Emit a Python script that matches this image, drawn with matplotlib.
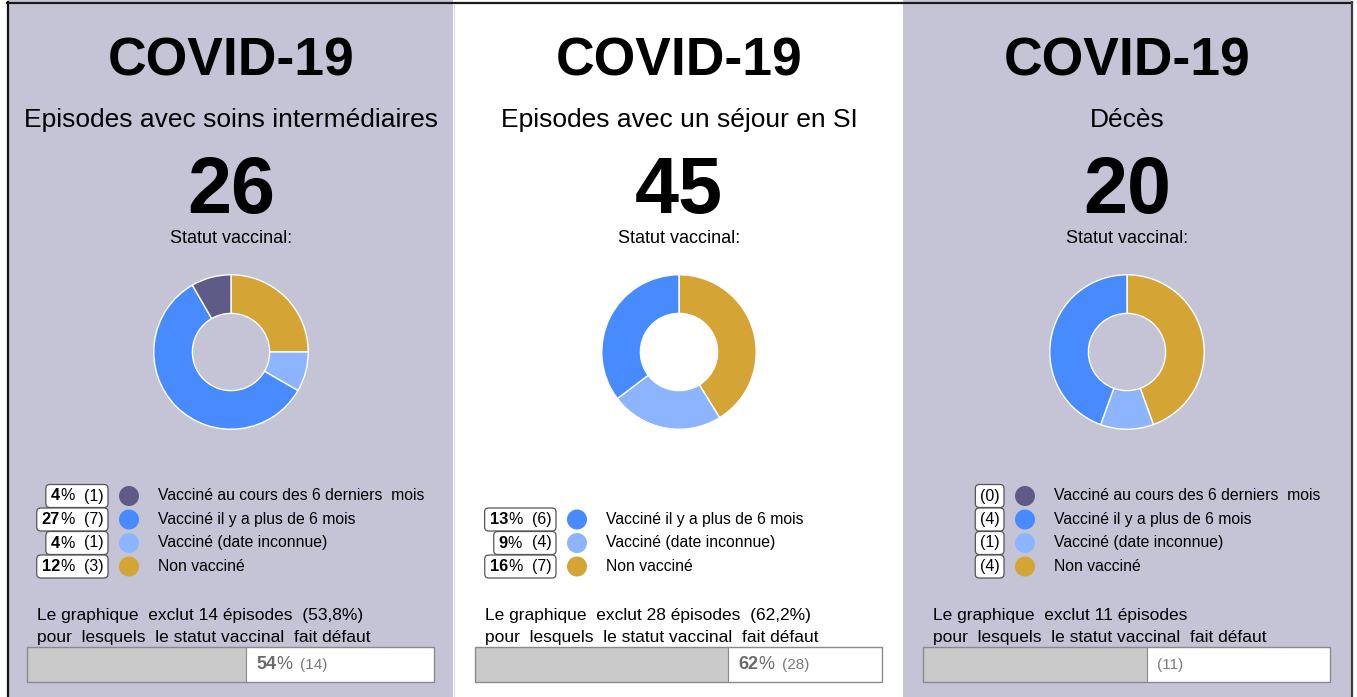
import matplotlib
matplotlib.use('Agg')
import matplotlib.pyplot as plt
from matplotlib.patches import Rectangle, FancyBboxPatch, Circle

plt.rcParams['font.family'] = ['Liberation Sans', 'DejaVu Sans']

# ---- data ----
subtitles = ['Episodes avec soins intermédiaires', 'Episodes avec un séjour en SI', 'Décès']
totals = [26, 45, 20]
categories = ['Vacciné au cours des 6 derniers  mois', 'Vacciné il y a plus de 6 mois',
              'Vacciné (date inconnue)', 'Non vacciné']
cat_colors = ['#5f5b87', '#488bff', '#8db4ff', '#d4a535']
counts = [[1, 7, 1, 3],
          [None, 6, 4, 7],
          [0, 4, 1, 4]]
missing = [14, 28, 11]
show_pct = [True, True, False]

# ---- layout (pixels) ----
W, H = 1357, 697
panel_x = [(8, 453), (453, 903), (903, 1351)]
panel_bg = ['#c5c4d6', '#ffffff', '#c5c4d6']
centers = [231, 679, 1127]
row_y = [496, 519.5, 543, 566.5]

fig = plt.figure(figsize=(W / 100, H / 100), dpi=100)
ax = fig.add_axes([0, 0, 1, 1])
ax.set_xlim(0, W)
ax.set_ylim(H, 0)
ax.axis('off')
renderer = fig.canvas.get_renderer()


def text_w(t):
    return t.get_window_extent(renderer).width


def runs_right(x, y, parts):
    left = x
    for s, kw, gap in reversed(parts):
        t = ax.text(x, y, s, ha='right', va='baseline', **kw)
        left = x - text_w(t)
        x = left - gap
    return left


def runs_left(x, y, parts):
    for s, kw, gap in parts:
        x += gap
        t = ax.text(x, y, s, ha='left', va='baseline', **kw)
        x += text_w(t)
    return x


for i in range(3):
    x0, x1 = panel_x[i]
    cx = centers[i]
    ax.add_patch(Rectangle((x0, 0), x1 - x0, H, facecolor=panel_bg[i], edgecolor='none', zorder=0))

    ax.text(cx, 76, 'COVID-19', ha='center', va='baseline', fontsize=38.5, fontweight='bold')
    ax.text(cx, 127, subtitles[i], ha='center', va='baseline', fontsize=19)
    ax.text(cx, 213, str(totals[i]), ha='center', va='baseline', fontsize=57, fontweight='bold')
    ax.text(cx, 243, 'Statut vaccinal:', ha='center', va='baseline', fontsize=13)

    # donut, clockwise from the top: last category first
    vals = [c or 0 for c in counts[i]][::-1]
    cols = cat_colors[::-1]
    keep = [k for k, v in enumerate(vals) if v > 0]
    r = 78
    pax = fig.add_axes([(cx - r) / W, (H - 352 - r) / H, 2 * r / W, 2 * r / H])
    pax.pie([vals[k] for k in keep], colors=[cols[k] for k in keep], startangle=90,
            counterclock=False, radius=1,
            wedgeprops=dict(width=0.5, edgecolor='white', linewidth=1))
    pax.set_xlim(-1.01, 1.01)
    pax.set_ylim(-1.01, 1.01)
    pax.set_facecolor('none')

    # legend
    for j, cat in enumerate(categories):
        c = counts[i][j]
        if c is None:
            continue
        yc = row_y[j]
        yb = yc + 4.5
        if show_pct[i]:
            pct = round(100 * c / totals[i])
            parts = [(str(pct), dict(fontsize=11.8, fontweight='bold'), 0),
                     ('%', dict(fontsize=11.5), 0),
                     ('(%d)' % c, dict(fontsize=11.5), 10)]
        else:
            parts = [('(%d)' % c, dict(fontsize=11.5), 0)]
        bx1 = cx - 123
        left = runs_right(bx1 - 4, yb, parts)
        ax.add_patch(FancyBboxPatch((left - 5, yc - 11.5), bx1 - left + 5, 23,
                                    boxstyle='round,pad=0,rounding_size=4',
                                    facecolor='white', edgecolor='#555555', lw=0.9, zorder=1))
        ax.add_patch(Circle((cx - 102, yc), 10, facecolor=cat_colors[j], edgecolor='none'))
        ax.text(cx - 73, yb, cat, ha='left', va='baseline', fontsize=11.3)

    # missing status note and bar
    m = missing[i]
    line1 = 'Le graphique  exclut %d épisodes' % m
    if show_pct[i]:
        line1 += '  (%s%%)' % ('%.1f' % (100 * m / totals[i])).replace('.', ',')
    ax.text(cx - 194, 620, line1, ha='left', va='baseline', fontsize=12.5)
    ax.text(cx - 194, 642, 'pour  lesquels  le statut vaccinal  fait défaut', ha='left',
            va='baseline', fontsize=12.5)

    bl, bw, bt, bh = cx - 204, 407, 647, 35
    frac = m / totals[i]
    ax.add_patch(Rectangle((bl, bt), bw, bh, facecolor='white', edgecolor='none', zorder=1))
    ax.add_patch(Rectangle((bl, bt), bw * frac, bh, facecolor='#cacaca', edgecolor='none', zorder=1))
    ax.add_patch(Rectangle((bl, bt), bw, bh, facecolor='none', edgecolor='#8a8a8a', lw=1, zorder=2))
    ax.plot([bl + bw * frac] * 2, [bt, bt + bh], color='#8a8a8a', lw=0.8, zorder=2)
    if show_pct[i]:
        parts = [(str(round(100 * frac)), dict(fontsize=13, fontweight='bold', color='#6a6a6a'), 0),
                 ('%', dict(fontsize=13, color='#6a6a6a'), 0),
                 ('(%d)' % m, dict(fontsize=11, color='#7a7a7a'), 8)]
    else:
        parts = [('(%d)' % m, dict(fontsize=11, color='#7a7a7a'), 0)]
    runs_left(bl + bw * frac + 10, 669, parts)

# frame lines
ax.plot([6.5, 1352], [2.5, 2.5], color='#1a1a1a', lw=1.6, zorder=5)
ax.plot([7.5, 7.5], [2, H], color='#111111', lw=1.6, zorder=5)
ax.plot([1351.5, 1351.5], [2, H], color='#3c3c3c', lw=1.6, zorder=5)
ax.plot([453.5, 453.5], [4, H], color='#dcdce8', lw=0.8, zorder=5)

fig.savefig('out.png', dpi=100)
